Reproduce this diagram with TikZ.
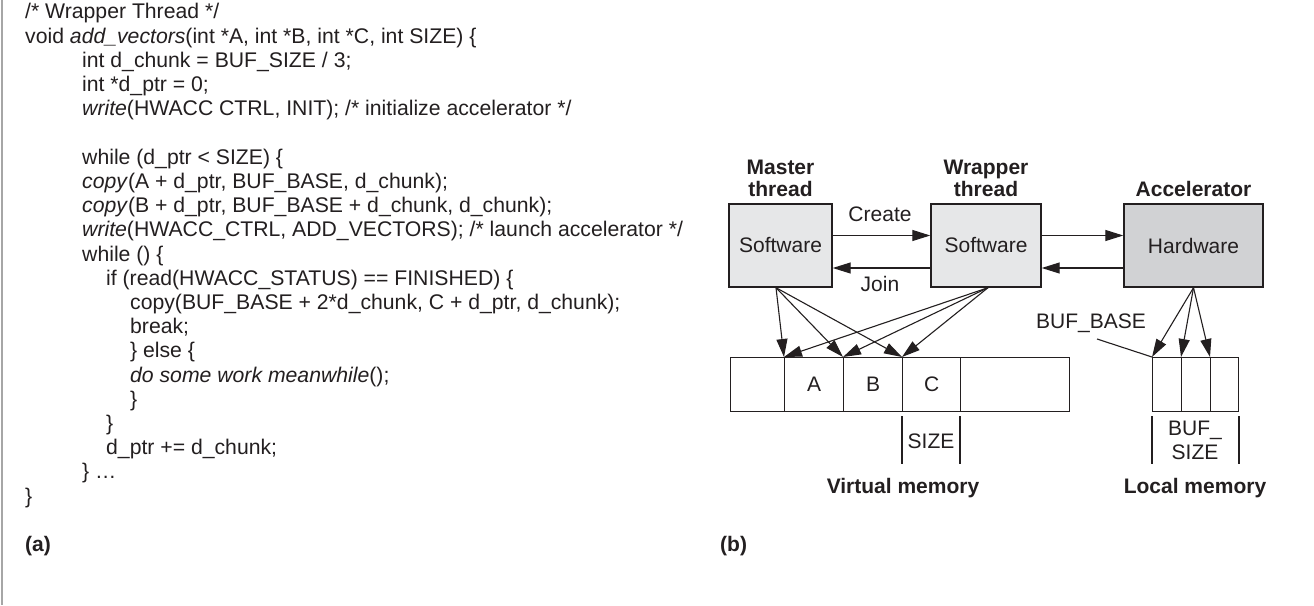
\documentclass[tikz,border=0pt]{standalone}
\usepackage{fontspec}
\setmainfont{Liberation Sans}
\usetikzlibrary{arrows.meta}
\definecolor{ink}{HTML}{231F20}
\definecolor{swfill}{HTML}{E6E7E8}
\definecolor{hwfill}{HTML}{D1D2D4}
\tikzset{
  codeline/.style={anchor=base west, inner sep=0pt, font=\fontsize{21.2}{24}\selectfont, text=ink},
  lbl/.style={inner sep=0pt, font=\fontsize{21}{24}\selectfont, text=ink},
  blbl/.style={inner sep=0pt, font=\fontsize{21}{22.5}\selectfont\bfseries, text=ink, align=center},
  unit/.style={draw=ink, line width=1.4pt, minimum height=83pt, inner sep=0pt, font=\fontsize{21}{22.5}\selectfont, text=ink},
  cell/.style={draw=ink, line width=1.3pt, minimum height=54pt, inner sep=0pt, font=\fontsize{21}{22.5}\selectfont, text=ink},
  arr/.style={draw=ink, line width=1.1pt, -{Triangle[length=18pt,width=11pt]}},
  thin/.style={draw=ink, line width=1.1pt}
}
\begin{document}
\begin{tikzpicture}[x=1pt,y=-1pt]
\useasboundingbox (0,0) rectangle (1314,605);
\fill[white] (0,0) rectangle (1314,605);
\draw[gray!70, line width=1.5pt] (2,0) -- (2,605);

% ---------- code (a) ----------
\node[codeline] (l0)  at (25, 19.0)  {/* Wrapper Thread */};
\node[codeline] (l1)  at (25, 43.2)  {void \textit{add\_vectors}(int *A, int *B, int *C, int SIZE) \{};
\node[codeline] (l2)  at (82, 67.4)  {int d\_chunk = BUF\_SIZE / 3;};
\node[codeline] (l3)  at (82, 91.6)  {int *d\_ptr = 0;};
\node[codeline] (l4)  at (82, 115.8) {\textit{write}(HWACC CTRL, INIT); /* initialize accelerator */};
\node[codeline] (l6)  at (82, 164.2) {while (d\_ptr < SIZE) \{};
\node[codeline] (l7)  at (82, 188.4) {\textit{copy}(A + d\_ptr, BUF\_BASE, d\_chunk);};
\node[codeline] (l8)  at (82, 212.6) {\textit{copy}(B + d\_ptr, BUF\_BASE + d\_chunk, d\_chunk);};
\node[codeline] (l9)  at (82, 236.8) {\textit{write}(HWACC\_CTRL, ADD\_VECTORS); /* launch accelerator */};
\node[codeline] (l10) at (82, 261.0) {while () \{};
\node[codeline] (l11) at (106, 285.2) {if (read(HWACC\_STATUS) == FINISHED) \{};
\node[codeline] (l12) at (130, 309.4) {copy(BUF\_BASE + 2*d\_chunk, C + d\_ptr, d\_chunk);};
\node[codeline] (l13) at (130, 333.6) {break;};
\node[codeline] (l14) at (130, 357.8) {\} else \{};
\node[codeline] (l15) at (130, 382.0) {\textit{do some work meanwhile}();};
\node[codeline] (l16) at (130, 406.2) {\}};
\node[codeline] (l17) at (106, 430.4) {\}};
\node[codeline] (l18) at (106, 454.6) {d\_ptr += d\_chunk;};
\node[codeline] (l19) at (82, 478.8) {\} …};
\node[codeline] (l20) at (25, 503.0) {\}};
\node[codeline, font=\fontsize{21}{24}\selectfont\bfseries] (capa) at (25, 551) {(a)};

% ---------- diagram (b) ----------
\node[codeline, font=\fontsize{21}{24}\selectfont\bfseries] (capb) at (720, 551) {(b)};

\node[unit, fill=swfill, minimum width=103pt] (ms) at (780.5,245.5) {Software};
\node[unit, fill=swfill, minimum width=110pt] (ws) at (986,245.5) {Software};
\node[unit, fill=hwfill, minimum width=139pt] (hw) at (1193.5,245.5) {Hardware};

\node[blbl, anchor=south] (mt) at (780.5,197) {Master\\thread};
\node[blbl, anchor=south] (wt) at (986,197) {Wrapper\\thread};
\node[blbl, anchor=south] (at) at (1193.5,197) {Accelerator};

\draw[arr] ([yshift=10pt]ms.east) -- ([yshift=10pt]ws.west);
\draw[arr] ([yshift=-22.5pt]ws.west) -- ([yshift=-22.5pt]ms.east);
\draw[arr] ([yshift=10pt]ws.east) -- ([yshift=10pt]hw.west);
\draw[arr] ([yshift=-22.5pt]hw.west) -- ([yshift=-22.5pt]ws.east);
\node[lbl] (create) at (880,214) {Create};
\node[lbl] (join) at (880,284) {Join};

% virtual memory
\node[cell, minimum width=54pt, anchor=north west] (v0) at (730,357) {};
\node[cell, minimum width=59pt, anchor=north west] (v1) at (784,357) {A};
\node[cell, minimum width=59pt, anchor=north west] (v2) at (843,357) {B};
\node[cell, minimum width=58pt, anchor=north west] (v3) at (902,357) {C};
\node[cell, minimum width=109pt, anchor=north west] (v4) at (960,357) {};

% local memory
\node[cell, minimum width=29pt, anchor=north west] (m1) at (1152,357) {};
\node[cell, minimum width=29pt, anchor=north west] (m2) at (1181,357) {};
\node[cell, minimum width=28pt, anchor=north west] (m3) at (1210,357) {};

\coordinate (msb) at ([xshift=-4.5pt]ms.south);
\coordinate (wsb) at ([xshift=2pt]ws.south);
\draw[arr] (msb) -- (v1.north west);
\draw[arr] (msb) -- (v2.north west);
\draw[arr] (msb) -- (v3.north west);
\draw[arr] (wsb) -- (v1.north west);
\draw[arr] (wsb) -- (v2.north west);
\draw[arr] (wsb) -- (v3.north west);
\draw[arr] (hw.south) -- (m1.north west);
\draw[arr] (hw.south) -- (m2.north west);
\draw[arr] (hw.south) -- (m3.north west);

\node[lbl] (bufbase) at (1091,323) {BUF\_BASE};
\coordinate (bbt) at (1097,339);
\draw[thin] (bbt) -- (m1.north west);

% size brackets
\coordinate (s1) at (902,416); \coordinate (s2) at (902,464);
\coordinate (s3) at (960,416); \coordinate (s4) at (960,464);
\draw[thin] (s1) -- (s2);
\draw[thin] (s3) -- (s4);
\node[lbl] (sz) at (931,441) {SIZE};

\coordinate (b1) at (1152,416); \coordinate (b2) at (1152,464);
\coordinate (b3) at (1239,416); \coordinate (b4) at (1239,464);
\draw[thin] (b1) -- (b2);
\draw[thin] (b3) -- (b4);
\node[lbl, align=center] (bsz) at (1195,440) {BUF\_\\SIZE};

\node[blbl] (vm) at (903,488) {Virtual memory};
\node[blbl] (lm) at (1195,488) {Local memory};
\end{tikzpicture}
\end{document}
